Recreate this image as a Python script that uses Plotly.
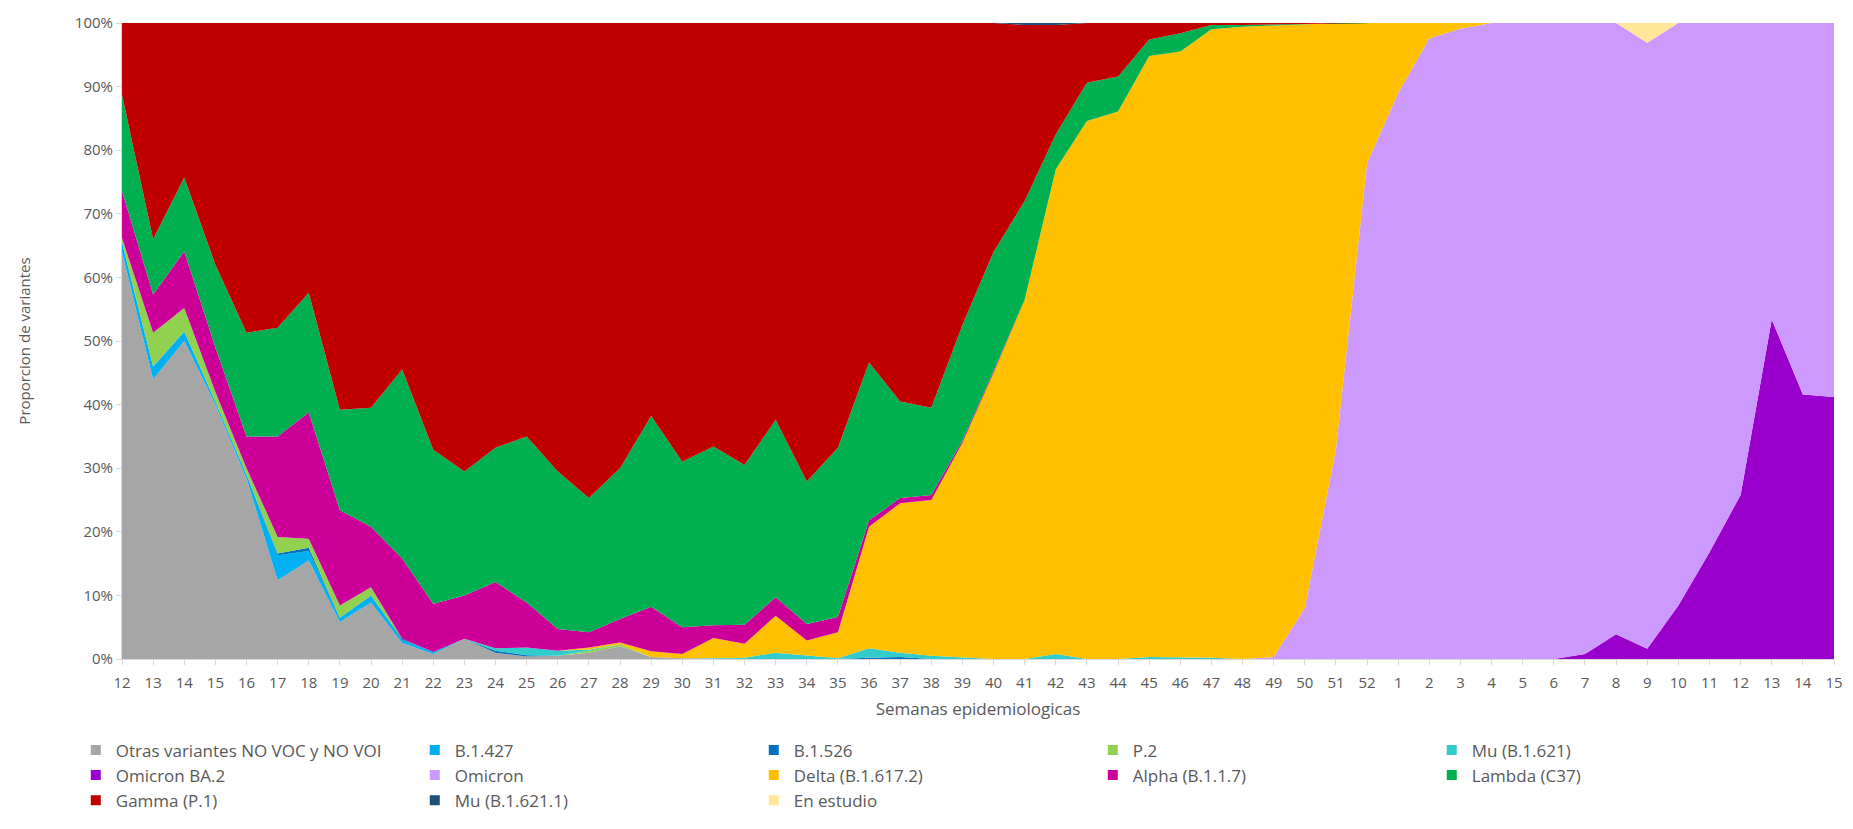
import plotly.graph_objects as go

weeks = ["12","13","14","15","16","17","18","19","20","21","22","23","24","25","26","27",
         "28","29","30","31","32","33","34","35","36","37","38","39","40","41","42","43",
         "44","45","46","47","48","49","50","51","52","1","2","3","4","5","6","7","8","9",
         "10","11","12","13","14","15"]

otras        = [64, 44, 50, 40, 28.4, 12.4, 15.5, 5.8, 8.9, 2.5, 0.8, 3.2, 1.0, 0.4, 0.5, 1.0, 2.0, 0.3, 0.1, 0, 0, 0, 0, 0, 0, 0, 0, 0, 0, 0, 0, 0, 0, 0, 0, 0, 0, 0, 0, 0, 0, 0, 0, 0, 0, 0, 0, 0, 0, 0, 0, 0, 0, 0, 0, 0]
b1427        = [1.5, 2, 1.5, 0.5, 0.6, 3.9, 1.5, 0.7, 1.1, 0.5, 0.3, 0, 0, 0, 0, 0, 0, 0, 0, 0, 0, 0, 0, 0, 0, 0, 0, 0, 0, 0, 0, 0, 0, 0, 0, 0, 0, 0, 0, 0, 0, 0, 0, 0, 0, 0, 0, 0, 0, 0, 0, 0, 0, 0, 0, 0]
b1526        = [0, 0, 0, 0, 0, 0.3, 0.5, 0, 0, 0.2, 0, 0, 0.3, 0.2, 0, 0, 0, 0, 0, 0, 0, 0, 0, 0, 0.2, 0.3, 0, 0, 0, 0, 0, 0, 0, 0, 0, 0, 0, 0, 0, 0, 0, 0, 0, 0, 0, 0, 0, 0, 0, 0, 0, 0, 0, 0, 0, 0]
p2           = [0.7, 5.3, 3.7, 1.5, 1.0, 2.6, 1.4, 1.9, 1.3, 0, 0, 0, 0, 0, 0, 0.3, 0.3, 0, 0, 0, 0, 0, 0, 0, 0, 0, 0, 0, 0, 0, 0, 0, 0, 0, 0, 0, 0, 0, 0, 0, 0, 0, 0, 0, 0, 0, 0, 0, 0, 0, 0, 0, 0, 0, 0, 0]
mu           = [0, 0, 0, 0, 0, 0, 0, 0, 0, 0, 0, 0, 0.4, 1.2, 0.8, 0.2, 0, 0, 0, 0.2, 0.2, 1.0, 0.5, 0.1, 1.5, 0.7, 0.5, 0.2, 0, 0, 0.8, 0, 0, 0.3, 0.3, 0.2, 0, 0, 0, 0, 0, 0, 0, 0, 0, 0, 0, 0, 0, 0, 0, 0, 0, 0, 0, 0]
omicron_ba2  = [0, 0, 0, 0, 0, 0, 0, 0, 0, 0, 0, 0, 0, 0, 0, 0, 0, 0, 0, 0, 0, 0, 0, 0, 0, 0, 0, 0, 0, 0, 0, 0, 0, 0, 0, 0, 0, 0, 0, 0, 0, 0, 0, 0, 0, 0, 0, 0.8, 3.9, 1.6, 8.4, 16.8, 25.8, 53.4, 41.6, 41.2]
omicron      = [0, 0, 0, 0, 0, 0, 0, 0, 0, 0, 0, 0, 0, 0, 0, 0, 0, 0, 0, 0, 0, 0, 0, 0, 0, 0, 0, 0, 0, 0, 0, 0, 0, 0, 0, 0, 0, 0.3, 8, 33, 78, 89, 97.6, 99.1, 100, 100, 100, 99.2, 96.1, 95.3, 91.6, 83.2, 74.2, 46.6, 58.4, 58.8]
delta        = [0, 0, 0, 0, 0, 0, 0, 0, 0, 0, 0, 0, 0, 0, 0, 0.3, 0.3, 0.9, 0.7, 3.1, 2.2, 5.8, 2.4, 4.1, 19.1, 23.5, 24.5, 33.8, 45, 56.5, 76.2, 84.6, 86.1, 94.5, 95.2, 98.8, 99.4, 99.3, 91.8, 67, 22, 11, 2.4, 0.9, 0, 0, 0, 0, 0, 0, 0, 0, 0, 0, 0, 0]
alpha        = [7.4, 6, 8.9, 7, 5, 15.8, 19.9, 15, 9.5, 12.6, 7.6, 6.8, 10.4, 7.1, 3.4, 2.4, 3.7, 7, 4.2, 2, 3, 2.9, 2.6, 2.4, 1.0, 0.8, 0.8, 0.3, 0.3, 0, 0, 0, 0, 0, 0, 0, 0, 0, 0, 0, 0, 0, 0, 0, 0, 0, 0, 0, 0, 0, 0, 0, 0, 0, 0, 0]
lambda_      = [15.1, 8.7, 11.6, 13, 16.3, 17.1, 18.8, 15.8, 18.7, 29.7, 24.2, 19.5, 21.1, 26.1, 24.8, 21.1, 23.7, 30, 26, 28.1, 25.1, 27.9, 22.4, 26.6, 24.8, 15.2, 13.7, 18.2, 18.7, 15.5, 5.5, 6, 5.5, 2.6, 2.9, 0.7, 0.3, 0.2, 0, 0, 0, 0, 0, 0, 0, 0, 0, 0, 0, 0, 0, 0, 0, 0, 0, 0]
gamma        = [11.3, 34, 24.3, 38, 48.7, 47.9, 42.4, 60.8, 60.5, 54.5, 67.1, 70.5, 66.8, 65, 70.5, 74.7, 70, 61.8, 69, 66.6, 69.5, 62.4, 72.1, 66.8, 53.4, 59.5, 60.5, 47.5, 36, 27.7, 17.2, 9.4, 8.4, 2.6, 1.6, 0.3, 0.3, 0.2, 0.2, 0, 0, 0, 0, 0, 0, 0, 0, 0, 0, 0, 0, 0, 0, 0, 0, 0]
mu_1         = [0, 0, 0, 0, 0, 0, 0, 0, 0, 0, 0, 0, 0, 0, 0, 0, 0, 0, 0, 0, 0, 0, 0, 0, 0, 0, 0, 0, 0, 0.3, 0.3, 0, 0, 0, 0, 0, 0, 0, 0, 0, 0, 0, 0, 0, 0, 0, 0, 0, 0, 0, 0, 0, 0, 0, 0, 0]
en_estudio   = [0, 0, 0, 0, 0, 0, 0, 0, 0, 0, 0, 0, 0, 0, 0, 0, 0, 0, 0, 0, 0, 0, 0, 0, 0, 0, 0, 0, 0, 0, 0, 0, 0, 0, 0, 0, 0, 0, 0, 0, 0, 0, 0, 0, 0, 0, 0, 0, 0, 3.1, 0, 0, 0, 0, 0, 0]

series_names = ["Otras variantes NO VOC y NO VOI", "B.1.427", "B.1.526", "P.2", "Mu (B.1.621)",
                "Omicron BA.2", "Omicron", "Delta (B.1.617.2)", "Alpha (B.1.1.7)", "Lambda (C37)",
                "Gamma (P.1)", "Mu (B.1.621.1)", "En estudio"]
series_values = [otras, b1427, b1526, p2, mu, omicron_ba2, omicron, delta, alpha, lambda_, gamma, mu_1, en_estudio]
series_colors = ["#A6A6A6", "#00B0F0", "#0070C0", "#92D050", "#33CCCC",
                 "#9900CC", "#CC99FF", "#FFC000", "#CC0099", "#00B050",
                 "#C00000", "#1F4E79", "#FFE699"]

x = list(range(len(weeks)))

fig = go.Figure()
for name, vals, col in zip(series_names, series_values, series_colors):
    fig.add_trace(go.Scatter(
        x=x, y=vals, name=name, mode="lines", stackgroup="one", groupnorm="percent",
        line=dict(width=0, color=col), fillcolor=col, showlegend=False,
        hoverinfo="x+y+name"))

# legend entries with square markers
for name, col in zip(series_names, series_colors):
    fig.add_trace(go.Scatter(
        x=[None], y=[None], name=name, mode="markers",
        marker=dict(symbol="square", size=10, color=col), showlegend=True))

axis_font = dict(family="Open Sans, Liberation Sans, sans-serif", size=15, color="#595959")

fig.update_layout(
    width=1853, height=829,
    margin=dict(l=122, r=10, t=23, b=170),
    paper_bgcolor="white", plot_bgcolor="white",
    font=dict(family="Open Sans, Liberation Sans, sans-serif", color="#595959"),
    xaxis=dict(
        range=[0, len(weeks) - 1], tickmode="array", tickvals=x, ticktext=weeks,
        tickangle=0, tickfont=axis_font, showgrid=False, zeroline=False,
        showline=True, linecolor="#D9D9D9", linewidth=1,
        ticks="outside", ticklen=5, tickcolor="#D9D9D9", ticklabelstandoff=5,
        title=dict(text="Semanas epidemiologicas", font=dict(size=17, color="#595959"), standoff=12),
    ),
    yaxis=dict(
        range=[0, 100], tickmode="array", tickvals=list(range(0, 101, 10)),
        ticktext=[f"{v}%" for v in range(0, 101, 10)], tickfont=axis_font,
        showgrid=False, zeroline=False, showline=True, linecolor="#D9D9D9", linewidth=1,
        ticks="outside", ticklen=5, tickcolor="#D9D9D9",
        title=dict(text="Proporcion de variantes", font=dict(size=15, color="#595959"), standoff=40),
    ),
    legend=dict(
        orientation="h", x=-0.027, xanchor="left", y=-0.1155, yanchor="top",
        entrywidth=294, entrywidthmode="pixels", itemwidth=30,
        font=dict(family="Open Sans, Liberation Sans, sans-serif", size=17, color="#595959"),
        traceorder="normal", bgcolor="rgba(0,0,0,0)",
    ),
    showlegend=True,
)

fig.write_html("out.html", config={"displayModeBar": False},
               post_script="document.body.style.margin='0';")
